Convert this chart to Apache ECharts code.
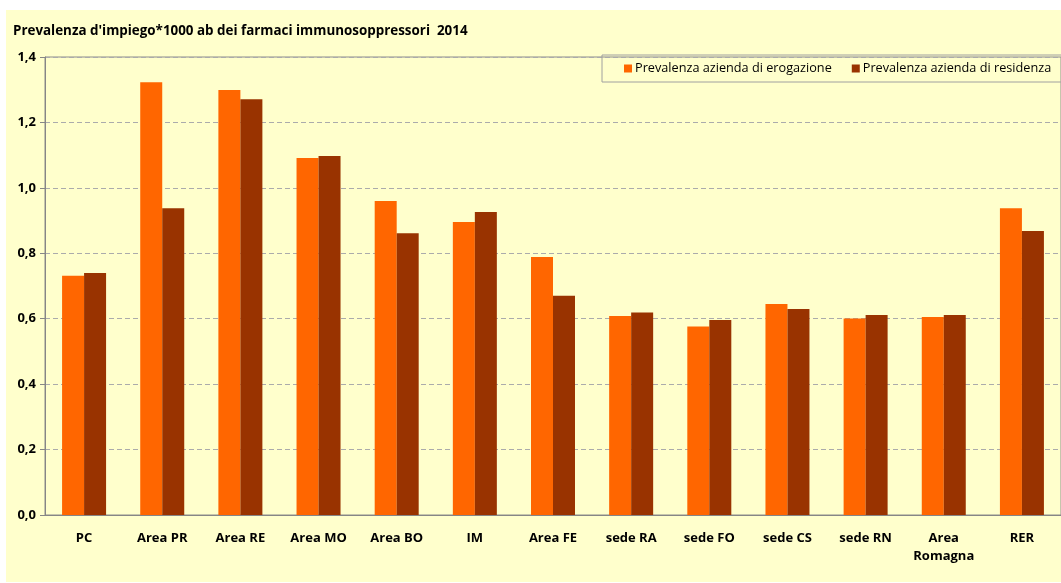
<!DOCTYPE html>
<html>
<head>
<meta charset="utf-8">
<script src="https://cdn.jsdelivr.net/npm/echarts@6/dist/echarts.min.js"></script>
<style>
    body { margin: 0; background: #fff; }
    #chart { position: absolute; left: 6px; top: 10px; width: 1055px; height: 572px; }
</style>
</head>
<body>
<div id="chart"></div>
<script>
// categorie e valori
const categories = ['PC', 'Area PR', 'Area RE', 'Area MO', 'Area BO', 'IM', 'Area FE',
    'sede RA', 'sede FO', 'sede CS', 'sede RN', 'Area\nRomagna', 'RER'];
const erogazione = [0.731, 1.323, 1.299, 1.091, 0.960, 0.896, 0.789, 0.608, 0.576, 0.645, 0.601, 0.605, 0.938];
const residenza = [0.740, 0.938, 1.271, 1.097, 0.861, 0.926, 0.670, 0.619, 0.596, 0.630, 0.611, 0.611, 0.868];
const seriesNames = ['Prevalenza azienda di erogazione', 'Prevalenza azienda di residenza'];

const font = '"Open Sans", sans-serif';
const chart = echarts.init(document.getElementById('chart'));

chart.setOption({
    backgroundColor: '#FFFFCC',
    animation: false,
    title: {
        text: "Prevalenza d'impiego*1000 ab dei farmaci immunosoppressori  2014",
        left: 2, top: 10,
        textStyle: { fontFamily: font, fontSize: 13.4, fontWeight: 'bold', color: '#000' }
    },
    legend: {
        orient: 'horizontal',
        left: 596, top: 45, width: 600,
        padding: [7, 40, 7, 22],
        itemWidth: 8, itemHeight: 8, itemGap: 20,
        borderColor: '#A0A0A0', borderWidth: 1,
        icon: 'rect',
        textStyle: { fontFamily: font, fontSize: 12.7, color: '#000', padding: [0, 0, 0, -2] },
        data: seriesNames
    },
    grid: {
        left: 39, top: 47, right: -11, bottom: 67,
        show: true, borderColor: '#8C8C8C', borderWidth: 1, backgroundColor: 'transparent'
    },
    xAxis: {
        type: 'category',
        data: categories,
        axisLine: { lineStyle: { color: '#868686' } },
        axisTick: { length: 5, lineStyle: { color: '#868686' } },
        axisLabel: {
            interval: 0, margin: 14, lineHeight: 18,
            fontFamily: font, fontSize: 13, fontWeight: 'bold', color: '#000'
        }
    },
    yAxis: {
        type: 'value',
        min: 0, max: 1.4, interval: 0.2,
        axisLine: { show: true, lineStyle: { color: '#868686' } },
        axisTick: { show: true, length: 5, lineStyle: { color: '#868686' } },
        axisLabel: {
            margin: 9,
            fontFamily: font, fontSize: 13, fontWeight: 'bold', color: '#000',
            formatter: v => v.toFixed(1).replace('.', ',')
        },
        splitLine: { lineStyle: { color: '#ABABAB', type: [5, 3] } }
    },
    series: [
        { name: seriesNames[0], type: 'bar', data: erogazione, barWidth: 22, barGap: '0%',
          itemStyle: { color: '#FF6600' } },
        { name: seriesNames[1], type: 'bar', data: residenza, barWidth: 22,
          itemStyle: { color: '#993300' } }
    ]
});
</script>
</body>
</html>
